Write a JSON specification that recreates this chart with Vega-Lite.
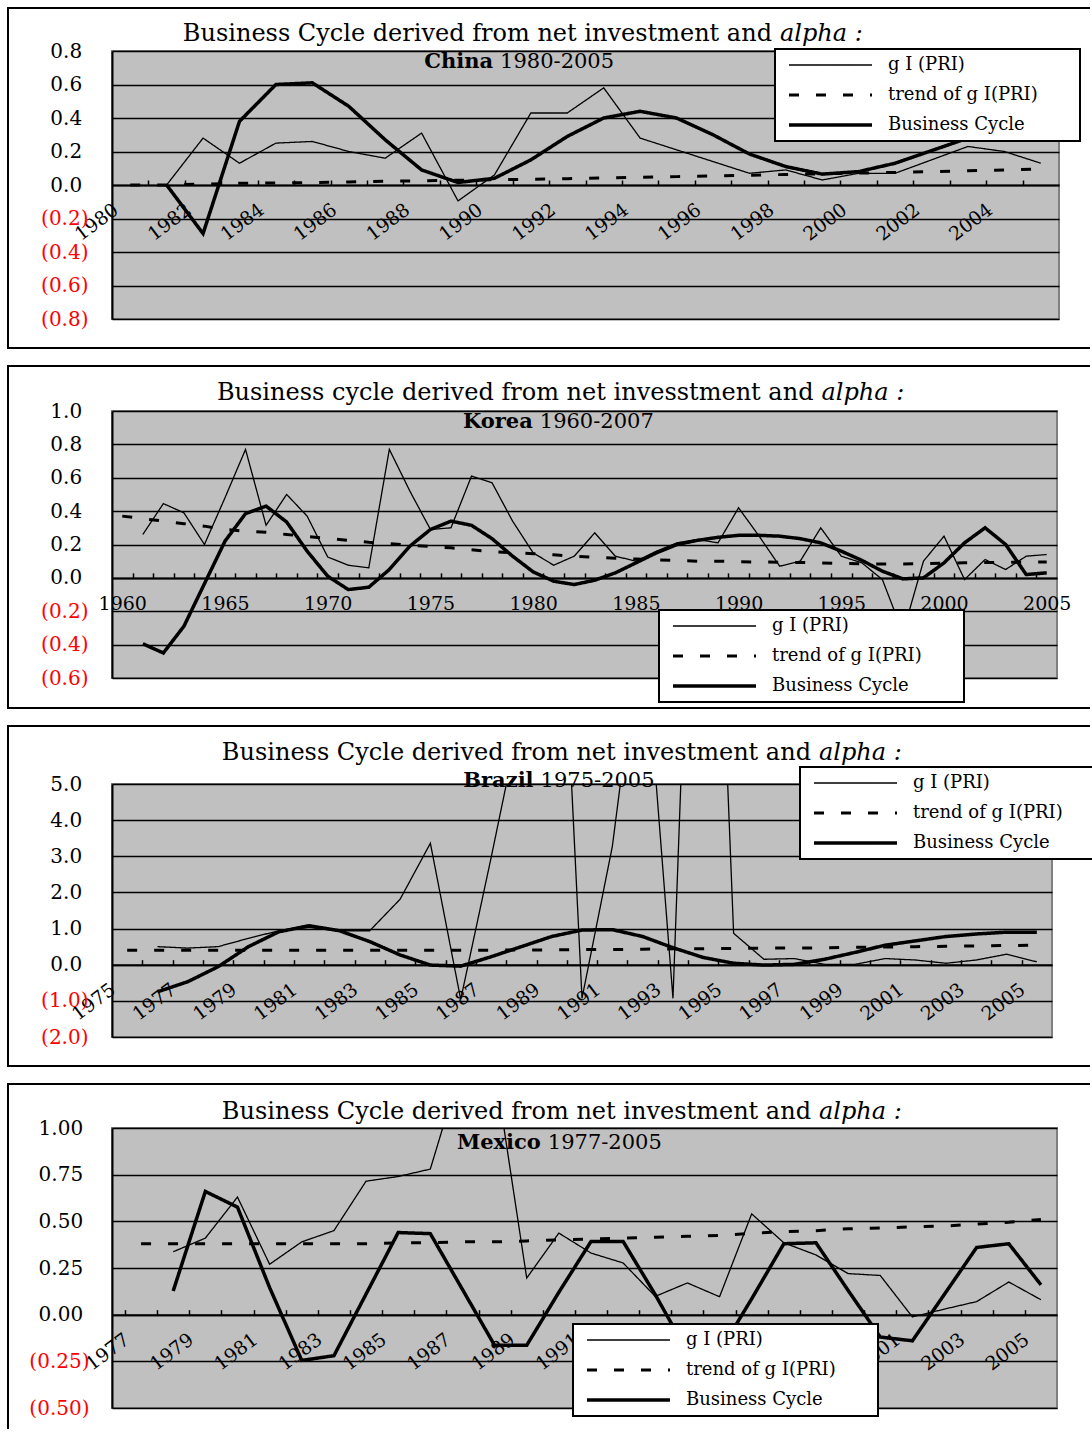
{
"$schema": "https://vega.github.io/schema/vega-lite/v6.json",
"background": "white",
"padding": {"left": 5, "top": 5, "right": 0, "bottom": 0},
"spacing": 12,
"datasets": {
"china": [
{"yr":1981,"s":"g I (PRI)","v":0.0},{"yr":1982,"s":"g I (PRI)","v":0.28},{"yr":1983,"s":"g I (PRI)","v":0.13},{"yr":1984,"s":"g I (PRI)","v":0.25},{"yr":1985,"s":"g I (PRI)","v":0.26},{"yr":1986,"s":"g I (PRI)","v":0.2},{"yr":1987,"s":"g I (PRI)","v":0.16},{"yr":1988,"s":"g I (PRI)","v":0.31},{"yr":1989,"s":"g I (PRI)","v":-0.095},{"yr":1990,"s":"g I (PRI)","v":0.06},{"yr":1991,"s":"g I (PRI)","v":0.43},{"yr":1992,"s":"g I (PRI)","v":0.43},{"yr":1993,"s":"g I (PRI)","v":0.58},{"yr":1994,"s":"g I (PRI)","v":0.28},{"yr":1995,"s":"g I (PRI)","v":0.21},{"yr":1996,"s":"g I (PRI)","v":0.14},{"yr":1997,"s":"g I (PRI)","v":0.07},{"yr":1998,"s":"g I (PRI)","v":0.09},{"yr":1999,"s":"g I (PRI)","v":0.03},{"yr":2000,"s":"g I (PRI)","v":0.07},{"yr":2001,"s":"g I (PRI)","v":0.07},{"yr":2002,"s":"g I (PRI)","v":0.15},{"yr":2003,"s":"g I (PRI)","v":0.23},{"yr":2004,"s":"g I (PRI)","v":0.2},{"yr":2005,"s":"g I (PRI)","v":0.13},
{"yr":1980,"s":"trend of g I(PRI)","v":0.0},{"yr":1981,"s":"trend of g I(PRI)","v":0.0},{"yr":1982,"s":"trend of g I(PRI)","v":0.005},{"yr":1983,"s":"trend of g I(PRI)","v":0.01},{"yr":1984,"s":"trend of g I(PRI)","v":0.012},{"yr":1985,"s":"trend of g I(PRI)","v":0.015},{"yr":1986,"s":"trend of g I(PRI)","v":0.018},{"yr":1987,"s":"trend of g I(PRI)","v":0.022},{"yr":1988,"s":"trend of g I(PRI)","v":0.025},{"yr":1989,"s":"trend of g I(PRI)","v":0.028},{"yr":1990,"s":"trend of g I(PRI)","v":0.031},{"yr":1991,"s":"trend of g I(PRI)","v":0.034},{"yr":1992,"s":"trend of g I(PRI)","v":0.038},{"yr":1993,"s":"trend of g I(PRI)","v":0.042},{"yr":1994,"s":"trend of g I(PRI)","v":0.046},{"yr":1995,"s":"trend of g I(PRI)","v":0.05},{"yr":1996,"s":"trend of g I(PRI)","v":0.054},{"yr":1997,"s":"trend of g I(PRI)","v":0.058},{"yr":1998,"s":"trend of g I(PRI)","v":0.063},{"yr":1999,"s":"trend of g I(PRI)","v":0.067},{"yr":2000,"s":"trend of g I(PRI)","v":0.071},{"yr":2001,"s":"trend of g I(PRI)","v":0.075},{"yr":2002,"s":"trend of g I(PRI)","v":0.08},{"yr":2003,"s":"trend of g I(PRI)","v":0.085},{"yr":2004,"s":"trend of g I(PRI)","v":0.09},{"yr":2005,"s":"trend of g I(PRI)","v":0.095},
{"yr":1981,"s":"Business Cycle","v":0.0},{"yr":1982,"s":"Business Cycle","v":-0.29},{"yr":1983,"s":"Business Cycle","v":0.38},{"yr":1984,"s":"Business Cycle","v":0.6},{"yr":1985,"s":"Business Cycle","v":0.61},{"yr":1986,"s":"Business Cycle","v":0.47},{"yr":1987,"s":"Business Cycle","v":0.27},{"yr":1988,"s":"Business Cycle","v":0.09},{"yr":1989,"s":"Business Cycle","v":0.015},{"yr":1990,"s":"Business Cycle","v":0.04},{"yr":1991,"s":"Business Cycle","v":0.15},{"yr":1992,"s":"Business Cycle","v":0.29},{"yr":1993,"s":"Business Cycle","v":0.4},{"yr":1994,"s":"Business Cycle","v":0.44},{"yr":1995,"s":"Business Cycle","v":0.4},{"yr":1996,"s":"Business Cycle","v":0.3},{"yr":1997,"s":"Business Cycle","v":0.185},{"yr":1998,"s":"Business Cycle","v":0.11},{"yr":1999,"s":"Business Cycle","v":0.065},{"yr":2000,"s":"Business Cycle","v":0.08},{"yr":2001,"s":"Business Cycle","v":0.13},{"yr":2002,"s":"Business Cycle","v":0.205},{"yr":2003,"s":"Business Cycle","v":0.28},{"yr":2004,"s":"Business Cycle","v":0.35},{"yr":2005,"s":"Business Cycle","v":0.42}
],
"korea": [
{"yr":1961,"s":"g I (PRI)","v":0.26},{"yr":1962,"s":"g I (PRI)","v":0.445},{"yr":1963,"s":"g I (PRI)","v":0.39},{"yr":1964,"s":"g I (PRI)","v":0.2},{"yr":1965,"s":"g I (PRI)","v":0.48},{"yr":1966,"s":"g I (PRI)","v":0.77},{"yr":1967,"s":"g I (PRI)","v":0.315},{"yr":1968,"s":"g I (PRI)","v":0.5},{"yr":1969,"s":"g I (PRI)","v":0.37},{"yr":1970,"s":"g I (PRI)","v":0.125},{"yr":1971,"s":"g I (PRI)","v":0.076},{"yr":1972,"s":"g I (PRI)","v":0.06},{"yr":1973,"s":"g I (PRI)","v":0.77},{"yr":1974,"s":"g I (PRI)","v":0.52},{"yr":1975,"s":"g I (PRI)","v":0.29},{"yr":1976,"s":"g I (PRI)","v":0.3},{"yr":1977,"s":"g I (PRI)","v":0.61},{"yr":1978,"s":"g I (PRI)","v":0.57},{"yr":1979,"s":"g I (PRI)","v":0.34},{"yr":1980,"s":"g I (PRI)","v":0.15},{"yr":1981,"s":"g I (PRI)","v":0.076},{"yr":1982,"s":"g I (PRI)","v":0.13},{"yr":1983,"s":"g I (PRI)","v":0.27},{"yr":1984,"s":"g I (PRI)","v":0.13},{"yr":1985,"s":"g I (PRI)","v":0.1},{"yr":1986,"s":"g I (PRI)","v":0.16},{"yr":1987,"s":"g I (PRI)","v":0.21},{"yr":1988,"s":"g I (PRI)","v":0.23},{"yr":1989,"s":"g I (PRI)","v":0.21},{"yr":1990,"s":"g I (PRI)","v":0.42},{"yr":1991,"s":"g I (PRI)","v":0.25},{"yr":1992,"s":"g I (PRI)","v":0.07},{"yr":1993,"s":"g I (PRI)","v":0.1},{"yr":1994,"s":"g I (PRI)","v":0.3},{"yr":1995,"s":"g I (PRI)","v":0.13},{"yr":1996,"s":"g I (PRI)","v":0.09},{"yr":1997,"s":"g I (PRI)","v":-0.01},{"yr":1998,"s":"g I (PRI)","v":-0.33},{"yr":1999,"s":"g I (PRI)","v":0.1},{"yr":2000,"s":"g I (PRI)","v":0.25},{"yr":2001,"s":"g I (PRI)","v":-0.01},{"yr":2002,"s":"g I (PRI)","v":0.11},{"yr":2003,"s":"g I (PRI)","v":0.05},{"yr":2004,"s":"g I (PRI)","v":0.13},{"yr":2005,"s":"g I (PRI)","v":0.14},
{"yr":1960,"s":"trend of g I(PRI)","v":0.37},{"yr":1961,"s":"trend of g I(PRI)","v":0.355},{"yr":1962,"s":"trend of g I(PRI)","v":0.34},{"yr":1963,"s":"trend of g I(PRI)","v":0.325},{"yr":1964,"s":"trend of g I(PRI)","v":0.31},{"yr":1965,"s":"trend of g I(PRI)","v":0.29},{"yr":1966,"s":"trend of g I(PRI)","v":0.28},{"yr":1967,"s":"trend of g I(PRI)","v":0.273},{"yr":1968,"s":"trend of g I(PRI)","v":0.26},{"yr":1969,"s":"trend of g I(PRI)","v":0.248},{"yr":1970,"s":"trend of g I(PRI)","v":0.237},{"yr":1971,"s":"trend of g I(PRI)","v":0.225},{"yr":1972,"s":"trend of g I(PRI)","v":0.213},{"yr":1973,"s":"trend of g I(PRI)","v":0.205},{"yr":1974,"s":"trend of g I(PRI)","v":0.195},{"yr":1975,"s":"trend of g I(PRI)","v":0.188},{"yr":1976,"s":"trend of g I(PRI)","v":0.18},{"yr":1977,"s":"trend of g I(PRI)","v":0.168},{"yr":1978,"s":"trend of g I(PRI)","v":0.158},{"yr":1979,"s":"trend of g I(PRI)","v":0.15},{"yr":1980,"s":"trend of g I(PRI)","v":0.145},{"yr":1981,"s":"trend of g I(PRI)","v":0.138},{"yr":1982,"s":"trend of g I(PRI)","v":0.13},{"yr":1983,"s":"trend of g I(PRI)","v":0.124},{"yr":1984,"s":"trend of g I(PRI)","v":0.118},{"yr":1985,"s":"trend of g I(PRI)","v":0.113},{"yr":1986,"s":"trend of g I(PRI)","v":0.108},{"yr":1987,"s":"trend of g I(PRI)","v":0.104},{"yr":1988,"s":"trend of g I(PRI)","v":0.1},{"yr":1989,"s":"trend of g I(PRI)","v":0.1},{"yr":1990,"s":"trend of g I(PRI)","v":0.097},{"yr":1991,"s":"trend of g I(PRI)","v":0.095},{"yr":1992,"s":"trend of g I(PRI)","v":0.094},{"yr":1993,"s":"trend of g I(PRI)","v":0.092},{"yr":1994,"s":"trend of g I(PRI)","v":0.09},{"yr":1995,"s":"trend of g I(PRI)","v":0.087},{"yr":1996,"s":"trend of g I(PRI)","v":0.085},{"yr":1997,"s":"trend of g I(PRI)","v":0.083},{"yr":1998,"s":"trend of g I(PRI)","v":0.083},{"yr":1999,"s":"trend of g I(PRI)","v":0.085},{"yr":2000,"s":"trend of g I(PRI)","v":0.088},{"yr":2001,"s":"trend of g I(PRI)","v":0.09},{"yr":2002,"s":"trend of g I(PRI)","v":0.092},{"yr":2003,"s":"trend of g I(PRI)","v":0.093},{"yr":2004,"s":"trend of g I(PRI)","v":0.094},{"yr":2005,"s":"trend of g I(PRI)","v":0.095},
{"yr":1961,"s":"Business Cycle","v":-0.395},{"yr":1962,"s":"Business Cycle","v":-0.45},{"yr":1963,"s":"Business Cycle","v":-0.29},{"yr":1964,"s":"Business Cycle","v":-0.035},{"yr":1965,"s":"Business Cycle","v":0.22},{"yr":1966,"s":"Business Cycle","v":0.385},{"yr":1967,"s":"Business Cycle","v":0.43},{"yr":1968,"s":"Business Cycle","v":0.335},{"yr":1969,"s":"Business Cycle","v":0.16},{"yr":1970,"s":"Business Cycle","v":0.01},{"yr":1971,"s":"Business Cycle","v":-0.07},{"yr":1972,"s":"Business Cycle","v":-0.056},{"yr":1973,"s":"Business Cycle","v":0.05},{"yr":1974,"s":"Business Cycle","v":0.19},{"yr":1975,"s":"Business Cycle","v":0.29},{"yr":1976,"s":"Business Cycle","v":0.34},{"yr":1977,"s":"Business Cycle","v":0.315},{"yr":1978,"s":"Business Cycle","v":0.235},{"yr":1979,"s":"Business Cycle","v":0.13},{"yr":1980,"s":"Business Cycle","v":0.036},{"yr":1981,"s":"Business Cycle","v":-0.02},{"yr":1982,"s":"Business Cycle","v":-0.04},{"yr":1983,"s":"Business Cycle","v":-0.014},{"yr":1984,"s":"Business Cycle","v":0.03},{"yr":1985,"s":"Business Cycle","v":0.09},{"yr":1986,"s":"Business Cycle","v":0.15},{"yr":1987,"s":"Business Cycle","v":0.2},{"yr":1988,"s":"Business Cycle","v":0.225},{"yr":1989,"s":"Business Cycle","v":0.243},{"yr":1990,"s":"Business Cycle","v":0.255},{"yr":1991,"s":"Business Cycle","v":0.255},{"yr":1992,"s":"Business Cycle","v":0.25},{"yr":1993,"s":"Business Cycle","v":0.235},{"yr":1994,"s":"Business Cycle","v":0.21},{"yr":1995,"s":"Business Cycle","v":0.16},{"yr":1996,"s":"Business Cycle","v":0.105},{"yr":1997,"s":"Business Cycle","v":0.04},{"yr":1998,"s":"Business Cycle","v":-0.006},{"yr":1999,"s":"Business Cycle","v":0.0},{"yr":2000,"s":"Business Cycle","v":0.09},{"yr":2001,"s":"Business Cycle","v":0.21},{"yr":2002,"s":"Business Cycle","v":0.3},{"yr":2003,"s":"Business Cycle","v":0.2},{"yr":2004,"s":"Business Cycle","v":0.02},{"yr":2005,"s":"Business Cycle","v":0.03}
],
"brazil": [
{"yr":1976,"s":"g I (PRI)","v":0.5},{"yr":1977,"s":"g I (PRI)","v":0.46},{"yr":1978,"s":"g I (PRI)","v":0.5},{"yr":1979,"s":"g I (PRI)","v":0.73},{"yr":1980,"s":"g I (PRI)","v":0.94},{"yr":1981,"s":"g I (PRI)","v":1.03},{"yr":1982,"s":"g I (PRI)","v":0.94},{"yr":1983,"s":"g I (PRI)","v":0.94},{"yr":1984,"s":"g I (PRI)","v":1.81},{"yr":1985,"s":"g I (PRI)","v":3.36},{"yr":1986,"s":"g I (PRI)","v":-0.96},{"yr":1987,"s":"g I (PRI)","v":2.95},{"yr":1988,"s":"g I (PRI)","v":7.0},{"yr":1989,"s":"g I (PRI)","v":16.3},{"yr":1990,"s":"g I (PRI)","v":-0.93},{"yr":1991,"s":"g I (PRI)","v":3.27},{"yr":1992,"s":"g I (PRI)","v":9.8},{"yr":1993,"s":"g I (PRI)","v":-0.93},{"yr":1994,"s":"g I (PRI)","v":22.0},{"yr":1995,"s":"g I (PRI)","v":0.87},{"yr":1996,"s":"g I (PRI)","v":0.15},{"yr":1997,"s":"g I (PRI)","v":0.17},{"yr":1998,"s":"g I (PRI)","v":0.01},{"yr":1999,"s":"g I (PRI)","v":0.01},{"yr":2000,"s":"g I (PRI)","v":0.17},{"yr":2001,"s":"g I (PRI)","v":0.13},{"yr":2002,"s":"g I (PRI)","v":0.04},{"yr":2003,"s":"g I (PRI)","v":0.13},{"yr":2004,"s":"g I (PRI)","v":0.29},{"yr":2005,"s":"g I (PRI)","v":0.08},
{"yr":1975,"s":"trend of g I(PRI)","v":0.4},{"yr":1976,"s":"trend of g I(PRI)","v":0.4},{"yr":1977,"s":"trend of g I(PRI)","v":0.4},{"yr":1978,"s":"trend of g I(PRI)","v":0.4},{"yr":1979,"s":"trend of g I(PRI)","v":0.4},{"yr":1980,"s":"trend of g I(PRI)","v":0.4},{"yr":1981,"s":"trend of g I(PRI)","v":0.4},{"yr":1982,"s":"trend of g I(PRI)","v":0.4},{"yr":1983,"s":"trend of g I(PRI)","v":0.4},{"yr":1984,"s":"trend of g I(PRI)","v":0.4},{"yr":1985,"s":"trend of g I(PRI)","v":0.4},{"yr":1986,"s":"trend of g I(PRI)","v":0.4},{"yr":1987,"s":"trend of g I(PRI)","v":0.4},{"yr":1988,"s":"trend of g I(PRI)","v":0.41},{"yr":1989,"s":"trend of g I(PRI)","v":0.41},{"yr":1990,"s":"trend of g I(PRI)","v":0.42},{"yr":1991,"s":"trend of g I(PRI)","v":0.42},{"yr":1992,"s":"trend of g I(PRI)","v":0.43},{"yr":1993,"s":"trend of g I(PRI)","v":0.44},{"yr":1994,"s":"trend of g I(PRI)","v":0.44},{"yr":1995,"s":"trend of g I(PRI)","v":0.45},{"yr":1996,"s":"trend of g I(PRI)","v":0.46},{"yr":1997,"s":"trend of g I(PRI)","v":0.46},{"yr":1998,"s":"trend of g I(PRI)","v":0.47},{"yr":1999,"s":"trend of g I(PRI)","v":0.48},{"yr":2000,"s":"trend of g I(PRI)","v":0.49},{"yr":2001,"s":"trend of g I(PRI)","v":0.5},{"yr":2002,"s":"trend of g I(PRI)","v":0.51},{"yr":2003,"s":"trend of g I(PRI)","v":0.52},{"yr":2004,"s":"trend of g I(PRI)","v":0.53},{"yr":2005,"s":"trend of g I(PRI)","v":0.54},
{"yr":1976,"s":"Business Cycle","v":-0.75},{"yr":1977,"s":"Business Cycle","v":-0.47},{"yr":1978,"s":"Business Cycle","v":-0.055},{"yr":1979,"s":"Business Cycle","v":0.5},{"yr":1980,"s":"Business Cycle","v":0.91},{"yr":1981,"s":"Business Cycle","v":1.08},{"yr":1982,"s":"Business Cycle","v":0.94},{"yr":1983,"s":"Business Cycle","v":0.64},{"yr":1984,"s":"Business Cycle","v":0.27},{"yr":1985,"s":"Business Cycle","v":-0.01},{"yr":1986,"s":"Business Cycle","v":-0.04},{"yr":1987,"s":"Business Cycle","v":0.22},{"yr":1988,"s":"Business Cycle","v":0.5},{"yr":1989,"s":"Business Cycle","v":0.78},{"yr":1990,"s":"Business Cycle","v":0.96},{"yr":1991,"s":"Business Cycle","v":0.97},{"yr":1992,"s":"Business Cycle","v":0.78},{"yr":1993,"s":"Business Cycle","v":0.47},{"yr":1994,"s":"Business Cycle","v":0.2},{"yr":1995,"s":"Business Cycle","v":0.04},{"yr":1996,"s":"Business Cycle","v":-0.01},{"yr":1997,"s":"Business Cycle","v":0.01},{"yr":1998,"s":"Business Cycle","v":0.15},{"yr":1999,"s":"Business Cycle","v":0.34},{"yr":2000,"s":"Business Cycle","v":0.54},{"yr":2001,"s":"Business Cycle","v":0.66},{"yr":2002,"s":"Business Cycle","v":0.78},{"yr":2003,"s":"Business Cycle","v":0.85},{"yr":2004,"s":"Business Cycle","v":0.9},{"yr":2005,"s":"Business Cycle","v":0.9}
],
"mexico": [
{"yr":1978,"s":"g I (PRI)","v":0.337},{"yr":1979,"s":"g I (PRI)","v":0.41},{"yr":1980,"s":"g I (PRI)","v":0.63},{"yr":1981,"s":"g I (PRI)","v":0.27},{"yr":1982,"s":"g I (PRI)","v":0.39},{"yr":1983,"s":"g I (PRI)","v":0.45},{"yr":1984,"s":"g I (PRI)","v":0.715},{"yr":1985,"s":"g I (PRI)","v":0.74},{"yr":1986,"s":"g I (PRI)","v":0.78},{"yr":1987,"s":"g I (PRI)","v":1.35},{"yr":1988,"s":"g I (PRI)","v":1.33},{"yr":1989,"s":"g I (PRI)","v":0.196},{"yr":1990,"s":"g I (PRI)","v":0.437},{"yr":1991,"s":"g I (PRI)","v":0.33},{"yr":1992,"s":"g I (PRI)","v":0.277},{"yr":1993,"s":"g I (PRI)","v":0.098},{"yr":1994,"s":"g I (PRI)","v":0.17},{"yr":1995,"s":"g I (PRI)","v":0.096},{"yr":1996,"s":"g I (PRI)","v":0.54},{"yr":1997,"s":"g I (PRI)","v":0.385},{"yr":1998,"s":"g I (PRI)","v":0.32},{"yr":1999,"s":"g I (PRI)","v":0.22},{"yr":2000,"s":"g I (PRI)","v":0.21},{"yr":2001,"s":"g I (PRI)","v":-0.012},{"yr":2002,"s":"g I (PRI)","v":0.03},{"yr":2003,"s":"g I (PRI)","v":0.07},{"yr":2004,"s":"g I (PRI)","v":0.175},{"yr":2005,"s":"g I (PRI)","v":0.08},
{"yr":1977,"s":"trend of g I(PRI)","v":0.38},{"yr":1978,"s":"trend of g I(PRI)","v":0.38},{"yr":1979,"s":"trend of g I(PRI)","v":0.38},{"yr":1980,"s":"trend of g I(PRI)","v":0.38},{"yr":1981,"s":"trend of g I(PRI)","v":0.38},{"yr":1982,"s":"trend of g I(PRI)","v":0.38},{"yr":1983,"s":"trend of g I(PRI)","v":0.38},{"yr":1984,"s":"trend of g I(PRI)","v":0.38},{"yr":1985,"s":"trend of g I(PRI)","v":0.385},{"yr":1986,"s":"trend of g I(PRI)","v":0.385},{"yr":1987,"s":"trend of g I(PRI)","v":0.39},{"yr":1988,"s":"trend of g I(PRI)","v":0.39},{"yr":1989,"s":"trend of g I(PRI)","v":0.395},{"yr":1990,"s":"trend of g I(PRI)","v":0.4},{"yr":1991,"s":"trend of g I(PRI)","v":0.405},{"yr":1992,"s":"trend of g I(PRI)","v":0.41},{"yr":1993,"s":"trend of g I(PRI)","v":0.415},{"yr":1994,"s":"trend of g I(PRI)","v":0.42},{"yr":1995,"s":"trend of g I(PRI)","v":0.425},{"yr":1996,"s":"trend of g I(PRI)","v":0.435},{"yr":1997,"s":"trend of g I(PRI)","v":0.445},{"yr":1998,"s":"trend of g I(PRI)","v":0.45},{"yr":1999,"s":"trend of g I(PRI)","v":0.46},{"yr":2000,"s":"trend of g I(PRI)","v":0.465},{"yr":2001,"s":"trend of g I(PRI)","v":0.47},{"yr":2002,"s":"trend of g I(PRI)","v":0.475},{"yr":2003,"s":"trend of g I(PRI)","v":0.485},{"yr":2004,"s":"trend of g I(PRI)","v":0.495},{"yr":2005,"s":"trend of g I(PRI)","v":0.51},
{"yr":1978,"s":"Business Cycle","v":0.127},{"yr":1979,"s":"Business Cycle","v":0.66},{"yr":1980,"s":"Business Cycle","v":0.576},{"yr":1981,"s":"Business Cycle","v":0.145},{"yr":1982,"s":"Business Cycle","v":-0.245},{"yr":1983,"s":"Business Cycle","v":-0.22},{"yr":1984,"s":"Business Cycle","v":0.11},{"yr":1985,"s":"Business Cycle","v":0.44},{"yr":1986,"s":"Business Cycle","v":0.434},{"yr":1987,"s":"Business Cycle","v":0.135},{"yr":1988,"s":"Business Cycle","v":-0.164},{"yr":1989,"s":"Business Cycle","v":-0.164},{"yr":1990,"s":"Business Cycle","v":0.12},{"yr":1991,"s":"Business Cycle","v":0.392},{"yr":1992,"s":"Business Cycle","v":0.392},{"yr":1993,"s":"Business Cycle","v":0.107},{"yr":1994,"s":"Business Cycle","v":-0.2},{"yr":1995,"s":"Business Cycle","v":-0.2},{"yr":1996,"s":"Business Cycle","v":0.085},{"yr":1997,"s":"Business Cycle","v":0.38},{"yr":1998,"s":"Business Cycle","v":0.385},{"yr":1999,"s":"Business Cycle","v":0.13},{"yr":2000,"s":"Business Cycle","v":-0.12},{"yr":2001,"s":"Business Cycle","v":-0.14},{"yr":2002,"s":"Business Cycle","v":0.11},{"yr":2003,"s":"Business Cycle","v":0.36},{"yr":2004,"s":"Business Cycle","v":0.38},{"yr":2005,"s":"Business Cycle","v":0.16}
]
},
"vconcat": [
{
"width": 947, "height": 268,
"resolve": {"axis": {"x": "independent"}},
"layer": [
{"data": {"values": [{}]}, "mark": {"type": "rule", "color": "black", "strokeWidth": 2, "strokeCap": "square"},
 "encoding": {"x": {"datum": 1976.6447, "type": "quantitative", "axis": {"orient": "top", "offset": -134, "tickCount": 200, "values": [1980.5,1981.5,1982.5,1983.5,1984.5,1985.5,1986.5,1987.5,1988.5,1989.5,1990.5,1991.5,1992.5,1993.5,1994.5,1995.5,1996.5,1997.5,1998.5,1999.5,2000.5,2001.5,2002.5,2003.5,2004.5], "labels": false, "ticks": true, "tickSize": 5, "tickWidth": 1.5, "domain": true, "domainWidth": 2, "grid": false, "title": null}},
  "x2": {"datum": 2006.3237}, "y": {"datum": 1.05672, "type": "quantitative"}}},
{"data": {"values": [{}]}, "mark": {"type": "rule", "color": "black", "strokeWidth": 2, "strokeCap": "square"},
 "encoding": {"x": {"datum": 1976.6447, "type": "quantitative", "axis": null}, "x2": {"datum": 2006.3237}, "y": {"datum": -0.97313, "type": "quantitative"}}},
{"data": {"values": [{}]}, "mark": {"type": "rule", "color": "black", "strokeWidth": 2, "strokeCap": "square"},
 "encoding": {"x": {"datum": 1976.6447, "type": "quantitative", "axis": null}, "y": {"datum": 1.05672, "type": "quantitative"}, "y2": {"datum": -0.97313}}},
{"data": {"values": [{}]}, "mark": {"type": "text", "text": "Business Cycle derived from net investment and", "font": "DejaVu Serif", "fontSize": 24, "align": "right", "baseline": "middle", "dx": -8, "color": "black"},
 "encoding": {"x": {"datum": 1997.84, "type": "quantitative", "axis": null}, "y": {"datum": 0.90149, "type": "quantitative"}}},
{"data": {"values": [{}]}, "mark": {"type": "text", "text": "alpha :", "font": "DejaVu Serif", "fontSize": 24, "fontStyle": "italic", "align": "left", "baseline": "middle", "color": "black"},
 "encoding": {"x": {"datum": 1997.84, "type": "quantitative", "axis": null}, "y": {"datum": 0.90149, "type": "quantitative"}}},
{"data": {"values": [{}]}, "mark": {"type": "text", "text": "China", "font": "DejaVu Serif", "fontSize": 21, "fontWeight": "bold", "align": "right", "baseline": "middle", "color": "black"},
 "encoding": {"x": {"datum": 1989.963, "type": "quantitative", "axis": null}, "y": {"datum": 0.73433, "type": "quantitative"}}},
{"data": {"values": [{}]}, "mark": {"type": "text", "text": "1980-2005", "font": "DejaVu Serif", "fontSize": 21, "align": "left", "baseline": "middle", "dx": 7, "color": "black"},
 "encoding": {"x": {"datum": 1989.963, "type": "quantitative", "axis": null}, "y": {"datum": 0.73433, "type": "quantitative"}}},
{"data": {"name": "china"}, "mark": {"type": "line", "clip": true, "color": "black"},
 "encoding": {
  "x": {"field": "yr", "type": "quantitative", "scale": {"domain": [1979.5, 2005.5], "nice": false, "zero": false},
   "axis": {"orient": "bottom", "offset": -134, "tickCount": 200, "values": [1980,1982,1984,1986,1988,1990,1992,1994,1996,1998,2000,2002,2004], "format": "d", "labelAngle": -37, "labelAlign": "right", "labelBaseline": "top", "labelPadding": 15, "labelOffset": -20, "ticks": false, "domain": false, "grid": false, "title": null}},
  "y": {"field": "v", "type": "quantitative", "scale": {"domain": [-0.8, 0.8], "nice": false, "zero": false},
   "axis": {"values": [-0.8,-0.6,-0.4,-0.2,0,0.2,0.4,0.6,0.8], "tickCount": 200, "grid": true, "ticks": false, "tickSize": 0, "domain": true, "domainWidth": 2, "labelPadding": 24, "labelFontSize": 20, "title": null,
    "labelExpr": "datum.value < 0 ? '(' + format(-datum.value, '.1f') + ')' : format(datum.value, '.1f') + '\u00a0\u200b'",
    "labelColor": {"condition": {"test": "datum.value < 0", "value": "#ff0000"}, "value": "black"}}},
  "strokeDash": {"field": "s", "type": "nominal", "scale": {"domain": ["g I (PRI)", "trend of g I(PRI)", "Business Cycle"], "range": [[1,0],[10,17],[1,0]]},
   "legend": {"orient": "none", "legendX": 663, "legendY": -2, "title": null, "labelExpr": "datum.label + '\u00a0\u00a0\u00a0\u00a0\u00a0\u00a0\u200b'"}},
  "strokeWidth": {"field": "s", "type": "nominal", "scale": {"type": "ordinal", "domain": ["g I (PRI)", "trend of g I(PRI)", "Business Cycle"], "range": [1.3, 3, 3.5]},
   "legend": {"orient": "none", "legendX": 663, "legendY": -2, "title": null, "labelExpr": "datum.label + '\u00a0\u00a0\u00a0\u00a0\u00a0\u00a0\u200b'"}}
 }}
]
},
{
"width": 945, "height": 267,
"resolve": {"axis": {"x": "independent"}},
"layer": [
{"data": {"values": [{}]}, "mark": {"type": "rule", "color": "black", "strokeWidth": 2, "strokeCap": "square"},
 "encoding": {"x": {"datum": 1954.4376, "type": "quantitative", "axis": {"orient": "top", "offset": -166.875, "tickCount": 200, "values": [1960.5,1961.5,1962.5,1963.5,1964.5,1965.5,1966.5,1967.5,1968.5,1969.5,1970.5,1971.5,1972.5,1973.5,1974.5,1975.5,1976.5,1977.5,1978.5,1979.5,1980.5,1981.5,1982.5,1983.5,1984.5,1985.5,1986.5,1987.5,1988.5,1989.5,1990.5,1991.5,1992.5,1993.5,1994.5,1995.5,1996.5,1997.5,1998.5,1999.5,2000.5,2001.5,2002.5,2003.5,2004.5], "labels": false, "ticks": true, "tickSize": 5, "tickWidth": 1.5, "domain": true, "domainWidth": 2, "grid": false, "title": null}},
  "x2": {"datum": 2007.0577}, "y": {"datum": 1.26966, "type": "quantitative"}}},
{"data": {"values": [{}]}, "mark": {"type": "rule", "color": "black", "strokeWidth": 2, "strokeCap": "square"},
 "encoding": {"x": {"datum": 1954.4376, "type": "quantitative", "axis": null}, "x2": {"datum": 2007.0577}, "y": {"datum": -0.77978, "type": "quantitative"}}},
{"data": {"values": [{}]}, "mark": {"type": "rule", "color": "black", "strokeWidth": 2, "strokeCap": "square"},
 "encoding": {"x": {"datum": 1954.4376, "type": "quantitative", "axis": null}, "y": {"datum": 1.26966, "type": "quantitative"}, "y2": {"datum": -0.77978}}},
{"data": {"values": [{}]}, "mark": {"type": "text", "text": "Business cycle derived from net invesstment and", "font": "DejaVu Serif", "fontSize": 24, "align": "right", "baseline": "middle", "dx": -8, "color": "black"},
 "encoding": {"x": {"datum": 1994.0365, "type": "quantitative", "axis": null}, "y": {"datum": 1.10787, "type": "quantitative"}}},
{"data": {"values": [{}]}, "mark": {"type": "text", "text": "alpha :", "font": "DejaVu Serif", "fontSize": 24, "fontStyle": "italic", "align": "left", "baseline": "middle", "color": "black"},
 "encoding": {"x": {"datum": 1994.0365, "type": "quantitative", "axis": null}, "y": {"datum": 1.10787, "type": "quantitative"}}},
{"data": {"values": [{}]}, "mark": {"type": "text", "text": "Korea", "font": "DejaVu Serif", "fontSize": 21, "fontWeight": "bold", "align": "right", "baseline": "middle", "color": "black"},
 "encoding": {"x": {"datum": 1979.983, "type": "quantitative", "axis": null}, "y": {"datum": 0.93588, "type": "quantitative"}}},
{"data": {"values": [{}]}, "mark": {"type": "text", "text": "1960-2007", "font": "DejaVu Serif", "fontSize": 21, "align": "left", "baseline": "middle", "dx": 7, "color": "black"},
 "encoding": {"x": {"datum": 1979.983, "type": "quantitative", "axis": null}, "y": {"datum": 0.93588, "type": "quantitative"}}},
{"data": {"name": "korea"}, "mark": {"type": "line", "clip": true, "color": "black"},
 "encoding": {
  "x": {"field": "yr", "type": "quantitative", "scale": {"domain": [1959.5, 2005.5], "nice": false, "zero": false},
   "axis": {"orient": "bottom", "offset": -100.125, "tickCount": 200, "values": [1960,1965,1970,1975,1980,1985,1990,1995,2000,2005], "format": "d", "labelAngle": 0, "labelAlign": "center", "labelBaseline": "top", "labelPadding": 17, "ticks": false, "domain": false, "grid": false, "title": null}},
  "y": {"field": "v", "type": "quantitative", "scale": {"domain": [-0.6, 1.0], "nice": false, "zero": false},
   "axis": {"values": [-0.6,-0.4,-0.2,0,0.2,0.4,0.6,0.8,1.0], "tickCount": 200, "grid": true, "ticks": false, "tickSize": 0, "domain": true, "domainWidth": 2, "labelPadding": 24, "labelFontSize": 20, "title": null,
    "labelExpr": "datum.value < 0 ? '(' + format(-datum.value, '.1f') + ')' : format(datum.value, '.1f') + '\u00a0\u200b'",
    "labelColor": {"condition": {"test": "datum.value < 0", "value": "#ff0000"}, "value": "black"}}},
  "strokeDash": {"field": "s", "type": "nominal", "scale": {"domain": ["g I (PRI)", "trend of g I(PRI)", "Business Cycle"], "range": [[1,0],[10,17],[1,0]]},
   "legend": {"orient": "none", "legendX": 547, "legendY": 199, "title": null, "labelExpr": "datum.label + '\u00a0\u00a0\u00a0\u00a0\u00a0\u00a0\u200b'"}},
  "strokeWidth": {"field": "s", "type": "nominal", "scale": {"type": "ordinal", "domain": ["g I (PRI)", "trend of g I(PRI)", "Business Cycle"], "range": [1.3, 3, 3.5]},
   "legend": {"orient": "none", "legendX": 547, "legendY": 199, "title": null, "labelExpr": "datum.label + '\u00a0\u00a0\u00a0\u00a0\u00a0\u00a0\u200b'"}}
 }}
]
},
{
"width": 940, "height": 253,
"resolve": {"axis": {"x": "independent"}},
"layer": [
{"data": {"values": [{}]}, "mark": {"type": "rule", "color": "black", "strokeWidth": 2, "strokeCap": "square"},
 "encoding": {"x": {"datum": 1971.0702, "type": "quantitative", "axis": {"orient": "top", "offset": -180.71, "tickCount": 200, "values": [1975.5,1976.5,1977.5,1978.5,1979.5,1980.5,1981.5,1982.5,1983.5,1984.5,1985.5,1986.5,1987.5,1988.5,1989.5,1990.5,1991.5,1992.5,1993.5,1994.5,1995.5,1996.5,1997.5,1998.5,1999.5,2000.5,2001.5,2002.5,2003.5,2004.5], "labels": false, "ticks": true, "tickSize": 5, "tickWidth": 1.5, "domain": true, "domainWidth": 2, "grid": false, "title": null}},
  "x2": {"datum": 2006.7202}, "y": {"datum": 6.60474, "type": "quantitative"}}},
{"data": {"values": [{}]}, "mark": {"type": "rule", "color": "black", "strokeWidth": 2, "strokeCap": "square"},
 "encoding": {"x": {"datum": 1971.0702, "type": "quantitative", "axis": null}, "x2": {"datum": 2006.7202}, "y": {"datum": -2.80237, "type": "quantitative"}}},
{"data": {"values": [{}]}, "mark": {"type": "rule", "color": "black", "strokeWidth": 2, "strokeCap": "square"},
 "encoding": {"x": {"datum": 1971.0702, "type": "quantitative", "axis": null}, "y": {"datum": 6.60474, "type": "quantitative"}, "y2": {"datum": -2.80237}}},
{"data": {"values": [{}]}, "mark": {"type": "text", "text": "Business Cycle derived from net investment and", "font": "DejaVu Serif", "fontSize": 24, "align": "right", "baseline": "middle", "dx": -8, "color": "black"},
 "encoding": {"x": {"datum": 1997.8159, "type": "quantitative", "axis": null}, "y": {"datum": 5.8577, "type": "quantitative"}}},
{"data": {"values": [{}]}, "mark": {"type": "text", "text": "alpha :", "font": "DejaVu Serif", "fontSize": 24, "fontStyle": "italic", "align": "left", "baseline": "middle", "color": "black"},
 "encoding": {"x": {"datum": 1997.8159, "type": "quantitative", "axis": null}, "y": {"datum": 5.8577, "type": "quantitative"}}},
{"data": {"values": [{}]}, "mark": {"type": "text", "text": "Brazil", "font": "DejaVu Serif", "fontSize": 21, "fontWeight": "bold", "align": "right", "baseline": "middle", "color": "black"},
 "encoding": {"x": {"datum": 1988.404, "type": "quantitative", "axis": null}, "y": {"datum": 5.0885, "type": "quantitative"}}},
{"data": {"values": [{}]}, "mark": {"type": "text", "text": "1975-2005", "font": "DejaVu Serif", "fontSize": 21, "align": "left", "baseline": "middle", "dx": 7, "color": "black"},
 "encoding": {"x": {"datum": 1988.404, "type": "quantitative", "axis": null}, "y": {"datum": 5.0885, "type": "quantitative"}}},
{"data": {"name": "brazil"}, "mark": {"type": "line", "clip": true, "color": "black"},
 "encoding": {
  "x": {"field": "yr", "type": "quantitative", "scale": {"domain": [1974.5, 2005.5], "nice": false, "zero": false},
   "axis": {"orient": "bottom", "offset": -72.29, "tickCount": 200, "values": [1975,1977,1979,1981,1983,1985,1987,1989,1991,1993,1995,1997,1999,2001,2003,2005], "format": "d", "labelAngle": -37, "labelAlign": "right", "labelBaseline": "top", "labelPadding": 15, "labelOffset": -20, "ticks": false, "domain": false, "grid": false, "title": null}},
  "y": {"field": "v", "type": "quantitative", "scale": {"domain": [-2, 5], "nice": false, "zero": false},
   "axis": {"values": [-2,-1,0,1,2,3,4,5], "tickCount": 200, "grid": true, "ticks": false, "tickSize": 0, "domain": true, "domainWidth": 2, "labelPadding": 24, "labelFontSize": 20, "title": null,
    "labelExpr": "datum.value < 0 ? '(' + format(-datum.value, '.1f') + ')' : format(datum.value, '.1f') + '\u00a0\u200b'",
    "labelColor": {"condition": {"test": "datum.value < 0", "value": "#ff0000"}, "value": "black"}}},
  "strokeDash": {"field": "s", "type": "nominal", "scale": {"domain": ["g I (PRI)", "trend of g I(PRI)", "Business Cycle"], "range": [[1,0],[10,17],[1,0]]},
   "legend": {"orient": "none", "legendX": 688, "legendY": -17, "title": null, "labelExpr": "datum.label + '\u00a0\u00a0\u00a0\u00a0\u200b'"}},
  "strokeWidth": {"field": "s", "type": "nominal", "scale": {"type": "ordinal", "domain": ["g I (PRI)", "trend of g I(PRI)", "Business Cycle"], "range": [1.3, 3, 3.5]},
   "legend": {"orient": "none", "legendX": 688, "legendY": -17, "title": null, "labelExpr": "datum.label + '\u00a0\u00a0\u00a0\u00a0\u200b'"}}
 }}
]
},
{
"width": 945, "height": 280,
"resolve": {"axis": {"x": "independent"}},
"layer": [
{"data": {"values": [{}]}, "mark": {"type": "rule", "color": "black", "strokeWidth": 2, "strokeCap": "square"},
 "encoding": {"x": {"datum": 1972.8594, "type": "quantitative", "axis": {"orient": "top", "offset": -186.67, "tickCount": 200, "values": [1976.5,1977.5,1978.5,1979.5,1980.5,1981.5,1982.5,1983.5,1984.5,1985.5,1986.5,1987.5,1988.5,1989.5,1990.5,1991.5,1992.5,1993.5,1994.5,1995.5,1996.5,1997.5,1998.5,1999.5,2000.5,2001.5,2002.5,2003.5,2004.5], "labels": false, "ticks": true, "tickSize": 5, "tickWidth": 1.5, "domain": true, "domainWidth": 2, "grid": false, "title": null}},
  "x2": {"datum": 2006.4958}, "y": {"datum": 1.23571, "type": "quantitative"}}},
{"data": {"values": [{}]}, "mark": {"type": "rule", "color": "black", "strokeWidth": 2, "strokeCap": "square"},
 "encoding": {"x": {"datum": 1972.8594, "type": "quantitative", "axis": null}, "y": {"datum": 1.23571, "type": "quantitative"}, "y2": {"datum": -0.60714}}},
{"data": {"values": [{}]}, "mark": {"type": "text", "text": "Business Cycle derived from net investment and", "font": "DejaVu Serif", "fontSize": 24, "align": "right", "baseline": "middle", "dx": -8, "color": "black"},
 "encoding": {"x": {"datum": 1998.0944, "type": "quantitative", "axis": null}, "y": {"datum": 1.08304, "type": "quantitative"}}},
{"data": {"values": [{}]}, "mark": {"type": "text", "text": "alpha :", "font": "DejaVu Serif", "fontSize": 24, "fontStyle": "italic", "align": "left", "baseline": "middle", "color": "black"},
 "encoding": {"x": {"datum": 1998.0944, "type": "quantitative", "axis": null}, "y": {"datum": 1.08304, "type": "quantitative"}}},
{"data": {"values": [{}]}, "mark": {"type": "text", "text": "Mexico", "font": "DejaVu Serif", "fontSize": 21, "fontWeight": "bold", "align": "right", "baseline": "middle", "color": "black"},
 "encoding": {"x": {"datum": 1989.438, "type": "quantitative", "axis": null}, "y": {"datum": 0.92232, "type": "quantitative"}}},
{"data": {"values": [{}]}, "mark": {"type": "text", "text": "1977-2005", "font": "DejaVu Serif", "fontSize": 21, "align": "left", "baseline": "middle", "dx": 7, "color": "black"},
 "encoding": {"x": {"datum": 1989.438, "type": "quantitative", "axis": null}, "y": {"datum": 0.92232, "type": "quantitative"}}},
{"data": {"name": "mexico"}, "mark": {"type": "line", "clip": true, "color": "black"},
 "encoding": {
  "x": {"field": "yr", "type": "quantitative", "scale": {"domain": [1976.0955, 2005.5], "nice": false, "zero": false},
   "axis": {"orient": "bottom", "offset": -93.33, "tickCount": 200, "values": [1977,1979,1981,1983,1985,1987,1989,1991,1993,1995,1997,1999,2001,2003,2005], "format": "d", "labelAngle": -37, "labelAlign": "right", "labelBaseline": "top", "labelPadding": 15, "labelOffset": -20, "ticks": false, "domain": false, "grid": false, "title": null}},
  "y": {"field": "v", "type": "quantitative", "scale": {"domain": [-0.5, 1.0], "nice": false, "zero": false},
   "axis": {"values": [-0.5,-0.25,0,0.25,0.5,0.75,1.0], "tickCount": 200, "grid": true, "ticks": false, "tickSize": 0, "domain": true, "domainWidth": 2, "labelPadding": 23, "labelFontSize": 20, "title": null,
    "labelExpr": "datum.value < 0 ? '(' + format(-datum.value, '.2f') + ')' : format(datum.value, '.2f') + '\u00a0\u200b'",
    "labelColor": {"condition": {"test": "datum.value < 0", "value": "#ff0000"}, "value": "black"}}},
  "strokeDash": {"field": "s", "type": "nominal", "scale": {"domain": ["g I (PRI)", "trend of g I(PRI)", "Business Cycle"], "range": [[1,0],[10,17],[1,0]]},
   "legend": {"orient": "none", "legendX": 461, "legendY": 196, "title": null, "labelExpr": "datum.label + '\u00a0\u00a0\u00a0\u00a0\u00a0\u00a0\u200b'"}},
  "strokeWidth": {"field": "s", "type": "nominal", "scale": {"type": "ordinal", "domain": ["g I (PRI)", "trend of g I(PRI)", "Business Cycle"], "range": [1.3, 3, 3.5]},
   "legend": {"orient": "none", "legendX": 461, "legendY": 196, "title": null, "labelExpr": "datum.label + '\u00a0\u00a0\u00a0\u00a0\u00a0\u00a0\u200b'"}}
 }}
]
}
],
"resolve": {"scale": {"strokeDash": "independent", "strokeWidth": "independent"}, "legend": {"strokeDash": "independent", "strokeWidth": "independent"}},
"config": {
 "view": {"fill": "#c0c0c0", "stroke": "#808080", "strokeWidth": 2},
 "axis": {"labelFont": "DejaVu Serif", "labelFontSize": 19, "labelColor": "black", "gridColor": "black", "gridWidth": 1.3, "gridOpacity": 1, "domainColor": "black", "tickColor": "black", "labelOverlap": false, "labelFlush": false, "labelBound": false},
 "legend": {"labelFont": "DejaVu Serif", "labelFontSize": 18, "labelColor": "black", "labelOffset": 14, "labelLimit": 400, "padding": 7, "clipHeight": 18, "rowPadding": 12, "symbolOffset": 5, "fillColor": "white", "strokeColor": "black", "strokeWidth": 2, "symbolType": "stroke", "symbolSize": 6889, "symbolStrokeColor": "black"}
}
}
